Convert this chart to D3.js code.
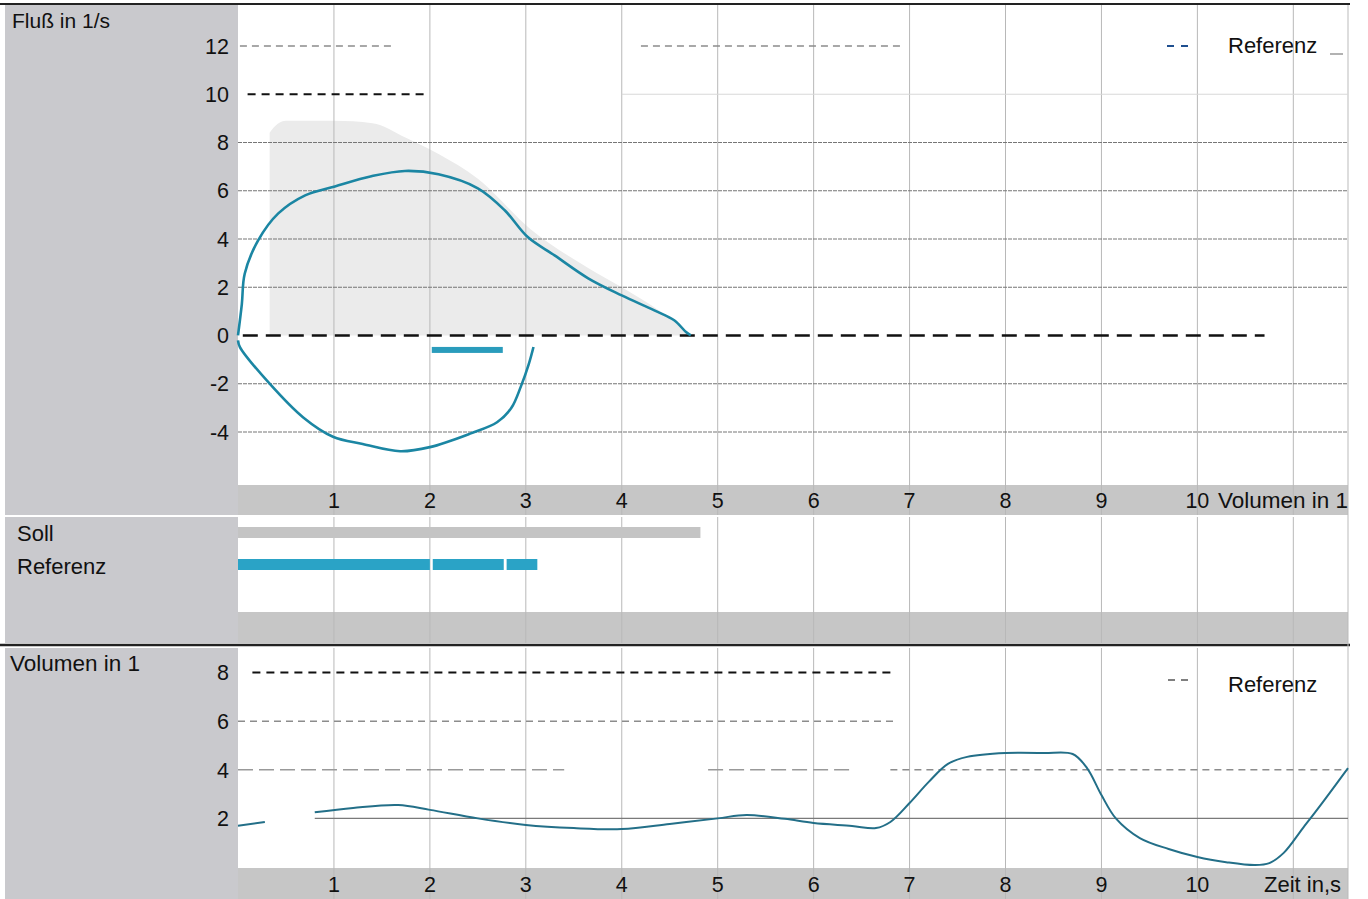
<!DOCTYPE html>
<html>
<head>
<meta charset="utf-8">
<script src="https://cdn.jsdelivr.net/npm/d3@7"></script>
<style>
  body { margin: 0; background: #fff; }
  svg { display: block; font-family: "Liberation Sans", Arial, sans-serif; }
</style>
</head>
<body>
<div id="chart"></div>
<script>
// x-Achse (Volumen bzw. Zeit)
const xTicks = [1, 2, 3, 4, 5, 6, 7, 8, 9, 10];
const xGrid = [1, 2, 3, 4, 5, 6, 7, 8, 9, 10, 11];
const flowTicks = [12, 10, 8, 6, 4, 2, 0, -2, -4];
const flowGrid = [8, 6, 4, 2, -2, -4];
const volTicks = [8, 6, 4, 2];

// Fluss-Volumen-Schleife (Referenz), Exspiration
const flowOutVol = [0, 0.04, 0.07, 0.21, 0.42, 0.7, 1.01, 1.39, 1.74, 2.09, 2.5, 2.78, 3.02, 3.3, 3.65, 4.0, 4.34, 4.55, 4.67, 4.72];
const flowOutVal = [0, 1.3, 2.56, 3.94, 5.06, 5.81, 6.18, 6.6, 6.82, 6.68, 6.1, 5.19, 4.08, 3.32, 2.37, 1.66, 1.04, 0.62, 0.14, 0];
// Inspiration
const flowInVol = [0, 0.02, 0.33, 0.68, 0.99, 1.3, 1.69, 2.0, 2.42, 2.7, 2.85, 2.95, 3.03, 3.08];
const flowInVal = [-0.2, -0.48, -2.0, -3.4, -4.2, -4.5, -4.8, -4.63, -4.07, -3.6, -3.0, -2.1, -1.2, -0.48];

// Soll-Fläche
const sollVol = [0.33, 0.33, 0.5, 1.0, 1.4, 1.75, 2.1, 2.5, 3.05, 3.65, 4.0, 4.4, 4.72];
const sollVal = [0, 8.4, 8.9, 8.9, 8.8, 8.2, 7.5, 6.5, 4.4, 2.8, 2.0, 1.0, 0];

// Balken Soll / Referenz (Volumen)
const sollBar = [[0, 4.82]];
const refBar = [[0, 2.0], [2.03, 2.77], [2.8, 3.12]];
const refMarker = [2.02, 2.76, -0.6];

// Volumen-Zeit-Kurve (null = Lücke im Scan)
const volTime = [0, 0.28, 0.5, 0.8, 1.2, 1.67, 2.0, 2.5, 3.0, 3.5, 4.0, 4.5, 5.0, 5.3, 5.7, 6.0, 6.4, 6.65, 6.8, 7.0, 7.2, 7.4, 7.6, 8.0, 8.4, 8.7, 8.85, 9.0, 9.15, 9.4, 9.7, 10.0, 10.3, 10.6, 10.75, 10.9, 11.1, 11.3, 11.57];
const volVal = [1.7, 1.85, null, 2.25, 2.43, 2.55, 2.35, 2.0, 1.73, 1.6, 1.56, 1.77, 2.0, 2.14, 1.98, 1.81, 1.69, 1.6, 1.85, 2.63, 3.5, 4.24, 4.53, 4.69, 4.69, 4.65, 4.07, 2.96, 2.0, 1.19, 0.74, 0.41, 0.2, 0.08, 0.16, 0.58, 1.6, 2.63, 4.07];

// gestrichelte Linien (Scan-Artefakte)
const flowDashes = [
  { v: 12, from: 0.02, to: 1.6, kind: "grau" },
  { v: 12, from: 4.2, to: 6.95, kind: "grau" },
  { v: 10, from: 0.1, to: 1.95, kind: "schwarz" },
  { v: 0, from: 0.05, to: 10.7, kind: "fett" }
];
const volDashes = [
  { v: 8, from: 0.15, to: 6.8, kind: "schwarz" },
  { v: 6, from: 0.0, to: 6.85, kind: "grau" },
  { v: 4, from: 0.0, to: 3.4, kind: "lang" },
  { v: 4, from: 4.9, to: 6.4, kind: "lang" },
  { v: 4, from: 6.8, to: 11.57, kind: "grau" }
];

const W = 1368, H = 899;
const svg = d3.select("#chart").append("svg").attr("width", W).attr("height", H);

const x = d3.scaleLinear().domain([0, 11.57]).range([238, 1348]);
const yF = d3.scaleLinear().domain([-6.2, 13.7]).range([485, 5]);
const yV = d3.scaleLinear().domain([0, 9.05]).range([867, 647]);

const grey = "#c9c9cd";
const band = "#c6c6c6";
const teal = "#1b86a3";

// Hintergründe
svg.append("rect").attr("x", 5).attr("y", 5).attr("width", 233).attr("height", 510).attr("fill", grey);
svg.append("rect").attr("x", 238).attr("y", 485).attr("width", 1110).attr("height", 30).attr("fill", band);
svg.append("rect").attr("x", 5).attr("y", 517).attr("width", 233).attr("height", 126).attr("fill", grey);
svg.append("rect").attr("x", 238).attr("y", 612).attr("width", 1110).attr("height", 31).attr("fill", band);
svg.append("rect").attr("x", 5).attr("y", 648).attr("width", 233).attr("height", 251).attr("fill", grey);
svg.append("rect").attr("x", 238).attr("y", 868).attr("width", 1110).attr("height", 31).attr("fill", band);

// Rahmenlinien
svg.append("line").attr("x1", 0).attr("x2", 1350).attr("y1", 4).attr("y2", 4).attr("stroke", "#222").attr("stroke-width", 2);
svg.append("line").attr("x1", 0).attr("x2", 1350).attr("y1", 645).attr("y2", 645).attr("stroke", "#222").attr("stroke-width", 2.5);
svg.append("line").attr("x1", 1348).attr("x2", 1348).attr("y1", 5).attr("y2", 899).attr("stroke", "#bbb").attr("stroke-width", 1);

// Soll-Fläche oben
const area = d3.area().x((d, i) => x(sollVol[i])).y0(yF(0)).y1((d, i) => yF(sollVal[i])).curve(d3.curveMonotoneX);
svg.append("path").datum(sollVol).attr("d", area).attr("fill", "#ebebeb");

// vertikale Gitterlinien
[[5, 515], [517, 643], [648, 899]].forEach(([a, b]) => {
  svg.append("g").selectAll("line").data(xGrid).join("line")
    .attr("x1", d => x(d)).attr("x2", d => x(d))
    .attr("y1", a).attr("y2", b)
    .attr("stroke", "#b8b8b8").attr("stroke-width", 1);
});

// horizontale Gitterlinien oben
svg.append("g").selectAll("line").data(flowGrid).join("line")
  .attr("x1", x(0)).attr("x2", 1348)
  .attr("y1", d => yF(d)).attr("y2", d => yF(d))
  .attr("stroke", "#767676").attr("stroke-width", 1.1).attr("stroke-dasharray", "4,1");
svg.append("line").attr("x1", x(4)).attr("x2", 1348).attr("y1", yF(10)).attr("y2", yF(10))
  .attr("stroke", "#d8d8d8").attr("stroke-width", 1);

const dashStyle = {
  grau: { c: "#8c8c8c", w: 1.5, d: "7,5" },
  schwarz: { c: "#111", w: 2, d: "8,6" },
  fett: { c: "#111", w: 2.6, d: "15,8" },
  lang: { c: "#999", w: 1.5, d: "15,6" }
};
function drawDashes(list, y) {
  svg.append("g").selectAll("line").data(list).join("line")
    .attr("x1", d => x(d.from)).attr("x2", d => x(d.to))
    .attr("y1", d => y(d.v)).attr("y2", d => y(d.v))
    .attr("stroke", d => dashStyle[d.kind].c)
    .attr("stroke-width", d => dashStyle[d.kind].w)
    .attr("stroke-dasharray", d => dashStyle[d.kind].d);
}
drawDashes(flowDashes, yF);

// Kurven oben
const lineF = (vs, fs) => d3.line().x((d, i) => x(vs[i])).y((d, i) => yF(fs[i])).curve(d3.curveCatmullRom.alpha(0.5))(vs);
svg.append("path").attr("d", lineF(flowOutVol, flowOutVal)).attr("fill", "none").attr("stroke", teal).attr("stroke-width", 2.6);
svg.append("path").attr("d", lineF(flowInVol, flowInVal)).attr("fill", "none").attr("stroke", teal).attr("stroke-width", 2.6);
svg.append("rect").attr("x", x(refMarker[0])).attr("y", yF(refMarker[2]) - 3)
  .attr("width", x(refMarker[1]) - x(refMarker[0])).attr("height", 6).attr("fill", "#2a9cbc");

// Achsenbeschriftung oben
const txt = (g) => g.attr("font-size", 21.5).attr("fill", "#111");
svg.append("g").selectAll("text").data(flowTicks).join("text")
  .attr("x", 229).attr("y", d => yF(d)).attr("dy", "0.36em").attr("text-anchor", "end")
  .text(d => d).call(txt);
svg.append("g").selectAll("text").data(xTicks).join("text")
  .attr("x", d => x(d)).attr("y", 500).attr("dy", "0.36em").attr("text-anchor", "middle")
  .text(d => d).call(txt);
svg.append("text").attr("x", 1218).attr("y", 500).attr("dy", "0.36em").text("Volumen in 1").call(txt).attr("font-size", 22.5);
svg.append("text").attr("x", 12).attr("y", 20).attr("dy", "0.36em").text("Fluß in 1/s").call(txt).attr("font-size", 21);

// Legende oben
svg.append("line").attr("x1", 1167).attr("x2", 1190).attr("y1", 46).attr("y2", 46)
  .attr("stroke", "#1f4f8f").attr("stroke-width", 2).attr("stroke-dasharray", "7,7");
svg.append("text").attr("x", 1228).attr("y", 45).attr("dy", "0.36em").text("Referenz").call(txt).attr("font-size", 22);
svg.append("line").attr("x1", 1330).attr("x2", 1343).attr("y1", 54).attr("y2", 54).attr("stroke", "#999").attr("stroke-width", 1.5);

// mittlerer Bereich: Balken
svg.append("text").attr("x", 17).attr("y", 533).attr("dy", "0.36em").text("Soll").call(txt).attr("font-size", 22);
svg.append("text").attr("x", 17).attr("y", 566).attr("dy", "0.36em").text("Referenz").call(txt).attr("font-size", 22);
svg.append("g").selectAll("rect").data(sollBar).join("rect")
  .attr("x", d => x(d[0])).attr("width", d => x(d[1]) - x(d[0]))
  .attr("y", 527).attr("height", 11).attr("fill", "#c4c4c4");
svg.append("g").selectAll("rect").data(refBar).join("rect")
  .attr("x", d => x(d[0])).attr("width", d => x(d[1]) - x(d[0]))
  .attr("y", 559).attr("height", 11).attr("fill", "#2aa3c6");

// unterer Bereich: Volumen-Zeit
drawDashes(volDashes, yV);
svg.append("line").attr("x1", x(0.8)).attr("x2", 1348).attr("y1", yV(2)).attr("y2", yV(2))
  .attr("stroke", "#7a7a7a").attr("stroke-width", 1.4);

const lineV = d3.line()
  .defined((d, i) => volVal[i] !== null)
  .x((d, i) => x(volTime[i])).y((d, i) => yV(volVal[i]))
  .curve(d3.curveCatmullRom.alpha(0.5));
svg.append("path").attr("d", lineV(volTime)).attr("fill", "none").attr("stroke", "#236f88").attr("stroke-width", 2);

svg.append("g").selectAll("text").data(volTicks).join("text")
  .attr("x", 229).attr("y", d => yV(d)).attr("dy", "0.36em").attr("text-anchor", "end")
  .text(d => d).call(txt);
svg.append("g").selectAll("text").data(xTicks).join("text")
  .attr("x", d => x(d)).attr("y", 884).attr("dy", "0.36em").attr("text-anchor", "middle")
  .text(d => d).call(txt);
svg.append("text").attr("x", 1264).attr("y", 884).attr("dy", "0.36em").text("Zeit in,s").call(txt).attr("font-size", 22);
svg.append("text").attr("x", 10).attr("y", 663).attr("dy", "0.36em").text("Volumen in 1").call(txt).attr("font-size", 22.5);

// Legende unten
svg.append("line").attr("x1", 1168).attr("x2", 1192).attr("y1", 680).attr("y2", 680)
  .attr("stroke", "#555").attr("stroke-width", 1.5).attr("stroke-dasharray", "7,6");
svg.append("text").attr("x", 1228).attr("y", 684).attr("dy", "0.36em").text("Referenz").call(txt).attr("font-size", 22);
</script>
</body>
</html>
